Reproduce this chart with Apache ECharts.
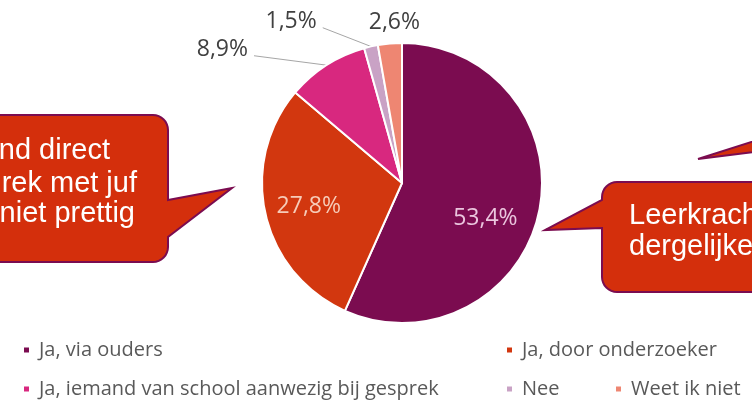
<!DOCTYPE html>
<html>
<head>
<meta charset="utf-8">
<script src="https://cdn.jsdelivr.net/npm/echarts@6/dist/echarts.min.js"></script>
<style>
html,body{margin:0;padding:0;background:#fff;}
#c{width:752px;height:401px;}
</style>
</head>
<body>
<div id="c"></div>
<script>
const categories = ['Ja, via ouders', 'Ja, door onderzoeker', 'Ja, iemand van school aanwezig bij gesprek', 'Nee', 'Weet ik niet'];
const values = [53.4, 27.8, 8.9, 1.5, 2.6];
const colors = ['#7B0C50', '#D2370F', '#D8287F', '#C9A2C5', '#EE8672'];
const leftBubbleLines = ['nd direct', 'rek met juf', 'niet prettig'];
const rightBubbleLines = ['Leerkracht', 'dergelijke'];

const fill = '#D42F0C', border = '#7B0C50';

function bubble(x0, y0, x1, y1, r, side, b0, b1, tip) {
  const pts = [];
  function arc(cx, cy, a0, a1) {
    for (let i = 0; i <= 8; i++) {
      const a = (a0 + (a1 - a0) * i / 8) * Math.PI / 180;
      pts.push([cx + r * Math.cos(a), cy + r * Math.sin(a)]);
    }
  }
  arc(x0 + r, y0 + r, 180, 270);
  arc(x1 - r, y0 + r, 270, 360);
  if (side === 'right') { pts.push([x1, b0]); pts.push(tip); pts.push([x1, b1]); }
  arc(x1 - r, y1 - r, 0, 90);
  arc(x0 + r, y1 - r, 90, 180);
  if (side === 'left') { pts.push([x0, b1]); pts.push(tip); pts.push([x0, b0]); }
  return pts;
}

const fmt = v => v.toFixed(1).replace('.', ',') + '%';

const insideColors = ['#EBC6DE', '#F6CBB8'];
const data = categories.map((name, i) => {
  const d = { name: name, value: values[i], itemStyle: { color: colors[i] } };
  if (i < 2) {
    d.label = { position: 'inside', color: insideColors[i] };
  } else {
    d.label = { position: 'outside', color: '#404040' };
    d.labelLine = { show: i !== 4 };
  }
  return d;
});

const labelShift = { 0: [12, 20], 1: [-22, 7], 2: [-58, -7], 3: [-37, -15], 4: [46, -11] };

const legendPos = [[22, 339], [505, 339], [22, 378], [505, 378], [614, 378]];
const legends = categories.map((name, i) => ({
  data: [name],
  left: legendPos[i][0],
  top: legendPos[i][1],
  padding: 0,
  icon: 'rect',
  itemWidth: 7,
  itemHeight: 7,
  selectedMode: false,
  textStyle: { fontFamily: 'Open Sans', fontSize: 20, color: '#595959', lineHeight: 22, padding: [0, 0, 0, 4] }
}));

const textStyleB = { fontFamily: 'Liberation Sans', fontSize: 29, fill: '#ffffff' };
const graphics = [
  { type: 'polygon', shape: { points: bubble(-30, 115, 168, 262, 15, 'right', 200, 237, [232, 188]) },
    style: { fill: fill, stroke: border, lineWidth: 2 }, z: 10 },
  { type: 'polygon', shape: { points: bubble(602, 182, 790, 292, 15, 'left', 200, 228, [545, 230]) },
    style: { fill: fill, stroke: border, lineWidth: 2 }, z: 10 },
  { type: 'polygon', shape: { points: [[698, 159], [770, 136], [770, 150]] },
    style: { fill: fill, stroke: border, lineWidth: 2 }, z: 10 }
];
const leftRight = [110, 137, 135], leftY = [151, 184, 214];
leftBubbleLines.forEach((t, i) => graphics.push({ type: 'text', x: leftRight[i], y: leftY[i], z: 11,
  style: Object.assign({ text: t, align: 'right', verticalAlign: 'middle' }, textStyleB) }));
const rightY = [216, 247];
rightBubbleLines.forEach((t, i) => graphics.push({ type: 'text', x: 629, y: rightY[i], z: 11,
  style: Object.assign({ text: t, align: 'left', verticalAlign: 'middle' }, textStyleB) }));

const chart = echarts.init(document.getElementById('c'), null, { renderer: 'canvas' });
chart.setOption({
  backgroundColor: '#ffffff',
  animation: false,
  legend: legends,
  graphic: graphics,
  series: [{
    type: 'pie',
    center: [402, 183],
    radius: 140,
    startAngle: 90,
    clockwise: true,
    avoidLabelOverlap: false,
    itemStyle: { borderColor: '#ffffff', borderWidth: 2 },
    label: {
      formatter: p => fmt(p.value),
      fontFamily: 'Open Sans',
      fontSize: 23
    },
    labelLine: { length: 10, length2: 10, lineStyle: { color: '#A6A6A6', width: 1 } },
    labelLayout: p => {
      const s = labelShift[p.dataIndex];
      const res = { dx: s[0], dy: s[1] };
      if ((p.dataIndex === 2 || p.dataIndex === 3) && p.labelLinePoints) {
        const r = p.labelRect;
        const p0 = p.labelLinePoints[0];
        res.labelLinePoints = [[p0[0], p0[1]], [r.x + r.width + s[0] + 6, r.y + r.height / 2 + s[1] + 6]];
      }
      return res;
    },
    emphasis: { disabled: true },
    data: data
  }]
});
</script>
</body>
</html>
